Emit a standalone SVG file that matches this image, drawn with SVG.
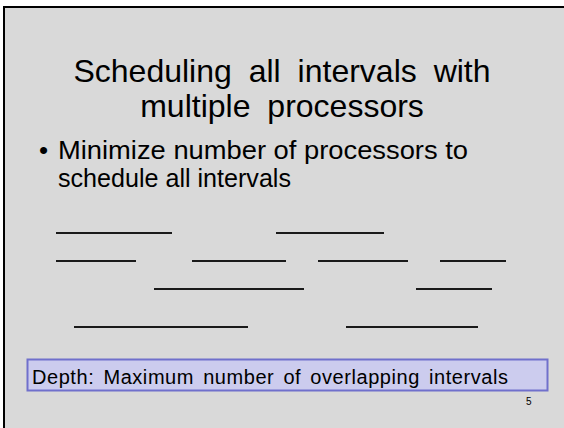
<svg xmlns="http://www.w3.org/2000/svg" width="564" height="428" viewBox="0 0 564 428">
<style>
.t{font-family:"Liberation Sans",Arial,sans-serif;fill:#000}
.iv{stroke:#1a1a1a;stroke-width:2;fill:none}
</style>
<rect x="0" y="0" width="564" height="428" fill="#ffffff"/>
<rect x="4" y="7" width="570" height="430" fill="#d9d9d9" stroke="#000" stroke-width="2"/>
<g id="title">
<text class="t" x="282" y="82" font-size="32" text-anchor="middle" word-spacing="8">Scheduling all intervals with</text>
<text class="t" x="282" y="117" font-size="32" text-anchor="middle" word-spacing="8">multiple processors</text>
</g>
<g id="bullet">
<text class="t" x="39" y="159" font-size="26">•</text>
<text class="t" x="58" y="159" font-size="26" textLength="410" lengthAdjust="spacingAndGlyphs">Minimize number of processors to</text>
<text class="t" x="58" y="187" font-size="26" textLength="233" lengthAdjust="spacingAndGlyphs">schedule all intervals</text>
</g>
<g id="intervals">
<line class="iv" x1="56" y1="233" x2="172" y2="233"/>
<line class="iv" x1="276" y1="233" x2="384" y2="233"/>
<line class="iv" x1="56" y1="261" x2="136" y2="261"/>
<line class="iv" x1="192" y1="261" x2="286" y2="261"/>
<line class="iv" x1="318" y1="261" x2="408" y2="261"/>
<line class="iv" x1="440" y1="261" x2="506" y2="261"/>
<line class="iv" x1="154" y1="289" x2="304" y2="289"/>
<line class="iv" x1="416" y1="289" x2="492" y2="289"/>
<line class="iv" x1="74" y1="327" x2="248" y2="327"/>
<line class="iv" x1="346" y1="327" x2="478" y2="327"/>
</g>
<g id="depth">
<rect x="27.5" y="359.5" width="520" height="31" fill="#ccccee" stroke="#7070cc" stroke-width="2"/>
<text class="t" x="32" y="384" font-size="20" word-spacing="3" textLength="476" lengthAdjust="spacing">Depth: Maximum number of overlapping intervals</text>
</g>
<text class="t" x="526" y="405" font-size="10">5</text>
</svg>
